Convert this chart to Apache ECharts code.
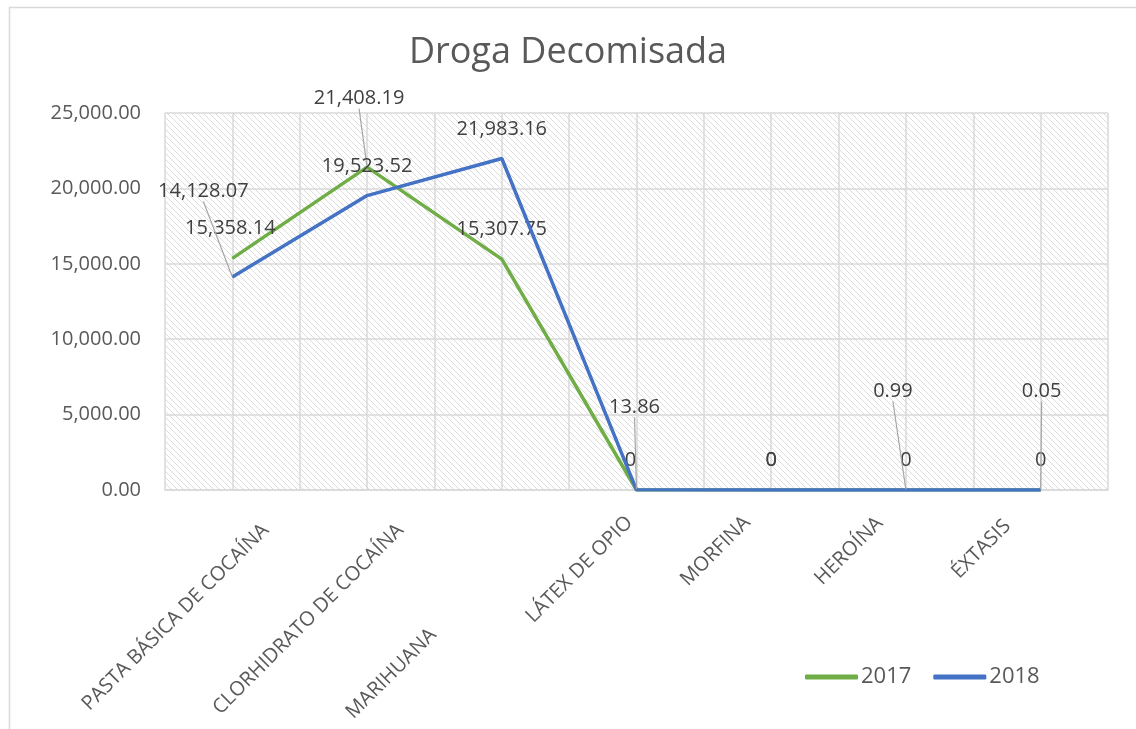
<!DOCTYPE html>
<html>
<head>
<meta charset="utf-8">
<script src="https://cdn.jsdelivr.net/npm/echarts@6/dist/echarts.min.js"></script>
<style>
  html, body { margin: 0; padding: 0; background: #fff; }
  #chart { width: 1136px; height: 729px; }
</style>
</head>
<body>
<div id="chart"></div>
<script>
// datos
const categories = ['PASTA BÁSICA DE COCAÍNA', 'CLORHIDRATO DE COCAÍNA', 'MARIHUANA', 'LÁTEX DE OPIO', 'MORFINA', 'HEROÍNA', 'ÉXTASIS'];
const values2017 = [15358.14, 21408.19, 15307.75, 0, 0, 0, 0];
const values2018 = [14128.07, 19523.52, 21983.16, 13.86, 0, 0.99, 0.05];
const yTicks = [0, 5000, 10000, 15000, 20000, 25000];

// desplazamiento de etiquetas (como en Excel), con línea guía donde aplica
const move2017 = [[-2, -15, 0], [-8, -53, 1], [0, -14, 0], [-6, -14, 0], [0, -14, 0], [0, -14, 0], [0, -14, 0]];
const move2018 = [[-29, -70, 1], [0, -14, 0], [0, -14, 0], [-2, -67, 1], [0, -14, 0], [-13, -83, 1], [1, -83, 1]];
// relleno [arriba, derecha, abajo, izquierda] de cada etiqueta del eje X
const catPad = [[94, 0, 0, 0], [94, 0, 0, 0], [98, 146, 0, 0], [26, 23, 0, 0], [2, 35, 0, 0], [0, 37, 0, 0], [0, 44, 6, 0]];

const fmt = v => v.toLocaleString('en-US', { minimumFractionDigits: 2, maximumFractionDigits: 2 });

// trama diagonal del área de trazado
const hatch = document.createElement('canvas');
hatch.width = 6; hatch.height = 6;
const hc = hatch.getContext('2d');
hc.strokeStyle = '#dcdcdc';
hc.lineWidth = 1;
hc.beginPath();
hc.moveTo(-1, -1); hc.lineTo(7, 7);
hc.moveTo(-1, 5); hc.lineTo(1, 7);
hc.moveTo(5, -1); hc.lineTo(7, 1);
hc.stroke();

const buildData = (vals, moves) => vals.map((v, i) => {
  const item = { value: v };
  if (moves[i][2]) item.labelLine = { show: true };
  return item;
});

const layoutFor = moves => params => {
  const m = moves[params.dataIndex];
  return m ? { dx: m[0], dy: m[1] } : {};
};

const labelFmt = p => {
  const v = p.value;
  return Number.isInteger(v) ? String(v) : fmt(v);
};

const catRich = {};
catPad.forEach((p, i) => {
  catRich['c' + i] = { fontSize: 20, color: '#595959', padding: p };
});

const chart = echarts.init(document.getElementById('chart'));
const option = {
  animation: false,
  backgroundColor: '#fff',
  textStyle: { fontFamily: 'Open Sans' },
  title: {
    text: 'Droga Decomisada',
    left: 'center',
    top: 30,
    textStyle: { fontSize: 36, fontWeight: 'normal', color: '#595959', fontFamily: 'Open Sans' }
  },
  graphic: [{
    type: 'rect', left: 7, top: 5, shape: { width: 1140, height: 740 },
    style: { fill: 'none', stroke: '#d9d9d9', lineWidth: 1.5 }, silent: true, z: -1
  }],
  legend: {
    left: 800, top: 661,
    itemWidth: 53, itemHeight: 5, itemGap: 22,
    icon: 'roundRect',
    textStyle: { fontSize: 22, color: '#595959', fontFamily: 'Open Sans', padding: [0, 0, 0, -2] },
    data: ['2017', '2018']
  },
  grid: {
    left: 165, right: 28, top: 113, bottom: 239,
    show: true, borderWidth: 0,
    backgroundColor: { image: hatch, repeat: 'repeat' }
  },
  xAxis: [{
    type: 'category',
    data: categories,
    boundaryGap: true,
    axisLine: { lineStyle: { color: '#d9d9d9', width: 1.5 } },
    axisTick: { show: false },
    splitLine: { show: false },
    axisLabel: {
      rotate: 45, margin: 4, fontSize: 20, color: '#595959', interval: 0,
      formatter: (v, i) => '{c' + i + '|' + v + '}',
      rich: catRich
    }
  }, {
    type: 'value', min: 0, max: 14, interval: 1, show: true,
    position: 'bottom',
    axisLine: { show: false }, axisTick: { show: false }, axisLabel: { show: false },
    splitLine: { show: true, lineStyle: { color: '#d9d9d9', width: 1.5 } }
  }],
  yAxis: {
    type: 'value', min: 0, max: 25000, interval: 5000,
    axisLine: { show: false }, axisTick: { show: false },
    splitLine: { lineStyle: { color: '#d9d9d9', width: 1.5 } },
    axisLabel: {
      margin: 24, fontSize: 20, color: '#595959',
      formatter: v => yTicks.includes(v) ? fmt(v) : ''
    }
  },
  series: [{
    name: '2017', type: 'line', xAxisIndex: 0,
    data: buildData(values2017, move2017),
    symbol: 'circle', symbolSize: 1, showSymbol: true,
    itemStyle: { color: '#70ad47' },
    lineStyle: { color: '#70ad47', width: 3.5 },
    label: { show: true, position: 'top', fontSize: 20, color: '#404040', formatter: labelFmt },
    labelLine: { show: false, lineStyle: { color: '#a6a6a6', width: 1.2 } },
    labelLayout: layoutFor(move2017),
    z: 3
  }, {
    name: '2018', type: 'line', xAxisIndex: 0,
    data: buildData(values2018, move2018),
    symbol: 'circle', symbolSize: 1, showSymbol: true,
    itemStyle: { color: '#4472c4' },
    lineStyle: { color: '#4472c4', width: 3.5 },
    label: { show: true, position: 'top', fontSize: 20, color: '#404040', formatter: labelFmt },
    labelLine: { show: false, lineStyle: { color: '#a6a6a6', width: 1.2 } },
    labelLayout: layoutFor(move2018),
    z: 4
  }]
};
chart.setOption(option);
</script>
</body>
</html>
